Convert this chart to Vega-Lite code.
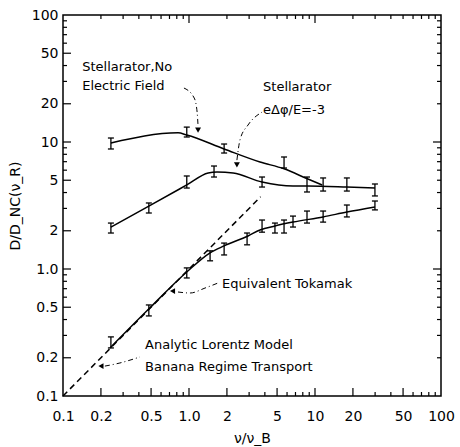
{
  "$schema": "https://vega.github.io/schema/vega-lite/v6.json",
  "width": 378,
  "height": 381,
  "autosize": {"type": "none"},
  "padding": {"left": 63, "top": 15, "right": 19, "bottom": 51},
  "background": "white",
  "config": {
    "view": {"stroke": "black", "strokeWidth": 1.5},
    "font": "DejaVu Sans",
    "axis": {"domain": false, "grid": false, "ticks": false, "labelColor": "black", "titleColor": "black", "labelFontSize": 14, "titleFontSize": 14, "titleFontWeight": "normal", "labelOverlap": false, "labelFlush": false}
  },
  "datasets": {
    "curves": [
      {"series": "noE", "x": 0.24, "y": 9.83},
      {"series": "noE", "x": 0.818, "y": 11.8},
      {"series": "noE", "x": 0.96, "y": 11.35},
      {"series": "noE", "x": 1.9, "y": 8.81},
      {"series": "noE", "x": 3.66, "y": 6.96},
      {"series": "noE", "x": 5.68, "y": 6.15},
      {"series": "noE", "x": 8.79, "y": 5.11},
      {"series": "noE", "x": 11.4, "y": 4.59},
      {"series": "phi", "x": 0.24, "y": 2.14},
      {"series": "phi", "x": 0.48, "y": 3.13},
      {"series": "phi", "x": 0.96, "y": 4.59},
      {"series": "phi", "x": 1.42, "y": 5.7},
      {"series": "phi", "x": 1.67, "y": 5.8},
      {"series": "phi", "x": 2.24, "y": 5.7},
      {"series": "phi", "x": 3.8, "y": 4.84},
      {"series": "phi", "x": 6.69, "y": 4.5},
      {"series": "phi", "x": 8.79, "y": 4.5},
      {"series": "phi", "x": 17.9, "y": 4.42},
      {"series": "phi", "x": 29.9, "y": 4.34},
      {"series": "tok", "x": 0.236, "y": 0.239},
      {"series": "tok", "x": 0.47, "y": 0.475},
      {"series": "tok", "x": 0.96, "y": 0.947},
      {"series": "tok", "x": 1.47, "y": 1.34},
      {"series": "tok", "x": 1.9, "y": 1.52},
      {"series": "tok", "x": 2.94, "y": 1.82},
      {"series": "tok", "x": 3.66, "y": 2.03},
      {"series": "tok", "x": 4.8, "y": 2.18},
      {"series": "tok", "x": 6.69, "y": 2.34},
      {"series": "tok", "x": 11.6, "y": 2.57},
      {"series": "tok", "x": 17.9, "y": 2.81},
      {"series": "tok", "x": 29.9, "y": 3.08}
    ],
    "bars": [
      {"series": "noE", "x": 0.24, "lo": 8.81, "hi": 10.75},
      {"series": "noE", "x": 0.96, "lo": 10.95, "hi": 13.1},
      {"series": "noE", "x": 1.9, "lo": 8.19, "hi": 9.64},
      {"series": "noE", "x": 5.68, "lo": 6.24, "hi": 7.62},
      {"series": "phi", "x": 0.24, "lo": 1.92, "hi": 2.3},
      {"series": "phi", "x": 0.48, "lo": 2.76, "hi": 3.31},
      {"series": "phi", "x": 0.96, "lo": 4.34, "hi": 5.4},
      {"series": "phi", "x": 1.58, "lo": 5.3, "hi": 6.47},
      {"series": "phi", "x": 3.8, "lo": 4.42, "hi": 5.3},
      {"series": "phi", "x": 8.64, "lo": 4.04, "hi": 5.3},
      {"series": "phi", "x": 11.6, "lo": 4.11, "hi": 5.21},
      {"series": "phi", "x": 17.9, "lo": 4.11, "hi": 5.21},
      {"series": "phi", "x": 29.9, "lo": 3.76, "hi": 4.67},
      {"series": "tok", "x": 0.24, "lo": 0.239, "hi": 0.292},
      {"series": "tok", "x": 0.48, "lo": 0.427, "hi": 0.521},
      {"series": "tok", "x": 0.96, "lo": 0.85, "hi": 1.02},
      {"series": "tok", "x": 1.47, "lo": 1.16, "hi": 1.39},
      {"series": "tok", "x": 1.9, "lo": 1.29, "hi": 1.6},
      {"series": "tok", "x": 2.89, "lo": 1.55, "hi": 1.92},
      {"series": "tok", "x": 3.8, "lo": 1.95, "hi": 2.43},
      {"series": "tok", "x": 4.81, "lo": 1.92, "hi": 2.3},
      {"series": "tok", "x": 5.68, "lo": 1.92, "hi": 2.43},
      {"series": "tok", "x": 6.69, "lo": 2.14, "hi": 2.61},
      {"series": "tok", "x": 8.64, "lo": 2.3, "hi": 2.86},
      {"series": "tok", "x": 11.6, "lo": 2.34, "hi": 2.86},
      {"series": "tok", "x": 17.9, "lo": 2.57, "hi": 3.19},
      {"series": "tok", "x": 29.9, "lo": 2.92, "hi": 3.43}
    ],
    "lorentz": [
      {"x": 0.1, "y": 0.1},
      {"x": 3.7, "y": 3.7}
    ],
    "arrows": [
      {"arrow": "noE", "x": 0.912, "y": 26.6},
      {"arrow": "noE", "x": 1.1, "y": 22.2},
      {"arrow": "noE", "x": 1.16, "y": 17.2},
      {"arrow": "noE", "x": 1.18, "y": 13.4},
      {"arrow": "phi", "x": 3.8, "y": 17.2},
      {"arrow": "phi", "x": 2.94, "y": 13.6},
      {"arrow": "phi", "x": 2.54, "y": 10.4},
      {"arrow": "phi", "x": 2.4, "y": 7.2},
      {"arrow": "tok", "x": 1.7, "y": 0.776},
      {"arrow": "tok", "x": 1.34, "y": 0.708},
      {"arrow": "tok", "x": 1.02, "y": 0.647},
      {"arrow": "tok", "x": 0.818, "y": 0.659},
      {"arrow": "ban", "x": 0.408, "y": 0.203},
      {"arrow": "ban", "x": 0.283, "y": 0.182},
      {"arrow": "ban", "x": 0.215, "y": 0.172}
    ],
    "heads": [
      {"arrow": "noE", "dir": "down", "x": 1.18, "y": 12.4},
      {"arrow": "phi", "dir": "down", "x": 2.4, "y": 6.6},
      {"arrow": "tok", "dir": "left", "x": 0.74, "y": 0.67},
      {"arrow": "ban", "dir": "left", "x": 0.2, "y": 0.172}
    ],
    "labels": [
      {"text": "Stellarator,No", "x": 0.142, "y": 39},
      {"text": "Electric Field", "x": 0.142, "y": 27.5},
      {"text": "Stellarator", "x": 3.87, "y": 27.1},
      {"text": "eΔφ/E=-3", "x": 3.87, "y": 17.9},
      {"text": "Equivalent  Tokamak", "x": 1.83, "y": 0.762},
      {"text": "Analytic Lorentz Model", "x": 0.448, "y": 0.252},
      {"text": "Banana Regime Transport", "x": 0.448, "y": 0.169}
    ],
    "axticks": [
      {"v": 0.2, "lab": "major", "dec": "minor"},
      {"v": 0.3, "lab": "minor", "dec": "minor"},
      {"v": 0.4, "lab": "minor", "dec": "minor"},
      {"v": 0.5, "lab": "major", "dec": "minor"},
      {"v": 0.6, "lab": "minor", "dec": "minor"},
      {"v": 0.7, "lab": "minor", "dec": "minor"},
      {"v": 0.8, "lab": "minor", "dec": "minor"},
      {"v": 0.9, "lab": "minor", "dec": "minor"},
      {"v": 1, "lab": "major", "dec": "major"},
      {"v": 2, "lab": "major", "dec": "minor"},
      {"v": 3, "lab": "minor", "dec": "minor"},
      {"v": 4, "lab": "minor", "dec": "minor"},
      {"v": 5, "lab": "major", "dec": "minor"},
      {"v": 6, "lab": "minor", "dec": "minor"},
      {"v": 7, "lab": "minor", "dec": "minor"},
      {"v": 8, "lab": "minor", "dec": "minor"},
      {"v": 9, "lab": "minor", "dec": "minor"},
      {"v": 10, "lab": "major", "dec": "major"},
      {"v": 20, "lab": "major", "dec": "minor"},
      {"v": 30, "lab": "minor", "dec": "minor"},
      {"v": 40, "lab": "minor", "dec": "minor"},
      {"v": 50, "lab": "major", "dec": "minor"},
      {"v": 60, "lab": "minor", "dec": "minor"},
      {"v": 70, "lab": "minor", "dec": "minor"},
      {"v": 80, "lab": "minor", "dec": "minor"},
      {"v": 90, "lab": "minor", "dec": "minor"}
    ]
  },
  "layer": [
    {
      "data": {"name": "axticks"},
      "transform": [{"filter": "datum.lab == 'major'"}],
      "mark": {"type": "rule", "color": "black", "strokeWidth": 1.2},
      "encoding": {
        "x": {"field": "v", "type": "quantitative", "scale": {"type": "log", "domain": [0.1, 100], "nice": false},
          "axis": {"orient": "bottom", "title": "ν/ν_B", "values": [0.1,0.2,0.5,1,2,5,10,20,50,100],
            "labelExpr": "datum.value == 1 ? '1.0' : toString(datum.value)",
            "labelPadding": 13, "titlePadding": 8}},
        "y": {"datum": 0.1, "type": "quantitative", "scale": {"type": "log", "domain": [0.1, 100], "nice": false},
          "axis": {"orient": "left", "title": "D/D_NC(ν_R)", "values": [0.1,0.2,0.5,1,2,5,10,20,50,100],
            "labelExpr": "datum.value == 1 ? '1.0' : toString(datum.value)",
            "labelPadding": 5, "titlePadding": 9}},
        "y2": {"datum": 0.1156}
      }
    },
    {
      "data": {"name": "axticks"},
      "transform": [{"filter": "datum.lab == 'minor'"}],
      "mark": {"type": "rule", "color": "black", "strokeWidth": 1.2},
      "encoding": {
        "x": {"field": "v", "type": "quantitative"},
        "y": {"datum": 0.1, "type": "quantitative"},
        "y2": {"datum": 0.1075}
      }
    },
    {
      "data": {"name": "axticks"},
      "transform": [{"filter": "datum.lab == 'major'"}],
      "mark": {"type": "rule", "color": "black", "strokeWidth": 1.2},
      "encoding": {
        "y": {"field": "v", "type": "quantitative"},
        "x": {"datum": 0.1, "type": "quantitative"},
        "x2": {"datum": 0.1157}
      }
    },
    {
      "data": {"name": "axticks"},
      "transform": [{"filter": "datum.lab == 'minor'"}],
      "mark": {"type": "rule", "color": "black", "strokeWidth": 1.2},
      "encoding": {
        "y": {"field": "v", "type": "quantitative"},
        "x": {"datum": 0.1, "type": "quantitative"},
        "x2": {"datum": 0.1076}
      }
    },
    {
      "data": {"name": "axticks"},
      "transform": [{"filter": "datum.dec == 'major'"}],
      "mark": {"type": "rule", "color": "black", "strokeWidth": 1.2},
      "encoding": {
        "x": {"field": "v", "type": "quantitative"},
        "y": {"datum": 100, "type": "quantitative"},
        "y2": {"datum": 86.5}
      }
    },
    {
      "data": {"name": "axticks"},
      "transform": [{"filter": "datum.dec == 'minor'"}],
      "mark": {"type": "rule", "color": "black", "strokeWidth": 1.2},
      "encoding": {
        "x": {"field": "v", "type": "quantitative"},
        "y": {"datum": 100, "type": "quantitative"},
        "y2": {"datum": 93}
      }
    },
    {
      "data": {"name": "axticks"},
      "transform": [{"filter": "datum.dec == 'major'"}],
      "mark": {"type": "rule", "color": "black", "strokeWidth": 1.2},
      "encoding": {
        "y": {"field": "v", "type": "quantitative"},
        "x": {"datum": 100, "type": "quantitative"},
        "x2": {"datum": 86.4}
      }
    },
    {
      "data": {"name": "axticks"},
      "transform": [{"filter": "datum.dec == 'minor'"}],
      "mark": {"type": "rule", "color": "black", "strokeWidth": 1.2},
      "encoding": {
        "y": {"field": "v", "type": "quantitative"},
        "x": {"datum": 100, "type": "quantitative"},
        "x2": {"datum": 92.9}
      }
    },
    {
      "data": {"name": "curves"},
      "mark": {"type": "line", "color": "black", "strokeWidth": 1.5, "interpolate": "monotone"},
      "encoding": {
        "x": {"field": "x", "type": "quantitative"},
        "y": {"field": "y", "type": "quantitative"},
        "detail": {"field": "series"}
      }
    },
    {
      "data": {"name": "lorentz"},
      "mark": {"type": "line", "color": "black", "strokeWidth": 1.5, "strokeDash": [6, 4]},
      "encoding": {
        "x": {"field": "x", "type": "quantitative"},
        "y": {"field": "y", "type": "quantitative"}
      }
    },
    {
      "data": {"name": "bars"},
      "mark": {"type": "rule", "color": "black", "strokeWidth": 1.3},
      "encoding": {
        "x": {"field": "x", "type": "quantitative"},
        "y": {"field": "lo", "type": "quantitative"},
        "y2": {"field": "hi"}
      }
    },
    {
      "data": {"name": "bars"},
      "mark": {"type": "point", "shape": "stroke", "filled": false, "color": "black", "strokeWidth": 1.3, "size": 36, "opacity": 1},
      "encoding": {
        "x": {"field": "x", "type": "quantitative"},
        "y": {"field": "lo", "type": "quantitative"}
      }
    },
    {
      "data": {"name": "bars"},
      "mark": {"type": "point", "shape": "stroke", "filled": false, "color": "black", "strokeWidth": 1.3, "size": 36, "opacity": 1},
      "encoding": {
        "x": {"field": "x", "type": "quantitative"},
        "y": {"field": "hi", "type": "quantitative"}
      }
    },
    {
      "data": {"name": "arrows"},
      "mark": {"type": "line", "color": "black", "strokeWidth": 1, "strokeDash": [5, 3, 1, 3], "interpolate": "monotone"},
      "encoding": {
        "x": {"field": "x", "type": "quantitative"},
        "y": {"field": "y", "type": "quantitative"},
        "detail": {"field": "arrow"}
      }
    },
    {
      "data": {"name": "heads"},
      "transform": [{"filter": "datum.dir == 'down'"}],
      "mark": {"type": "point", "shape": "triangle-down", "filled": true, "color": "black", "size": 35, "opacity": 1},
      "encoding": {
        "x": {"field": "x", "type": "quantitative"},
        "y": {"field": "y", "type": "quantitative"}
      }
    },
    {
      "data": {"name": "heads"},
      "transform": [{"filter": "datum.dir == 'left'"}],
      "mark": {"type": "point", "shape": "triangle-left", "filled": true, "color": "black", "size": 35, "opacity": 1},
      "encoding": {
        "x": {"field": "x", "type": "quantitative"},
        "y": {"field": "y", "type": "quantitative"}
      }
    },
    {
      "data": {"name": "labels"},
      "mark": {"type": "text", "align": "left", "baseline": "middle", "fontSize": 13, "color": "black", "font": "DejaVu Sans"},
      "encoding": {
        "x": {"field": "x", "type": "quantitative"},
        "y": {"field": "y", "type": "quantitative"},
        "text": {"field": "text"}
      }
    }
  ]
}
